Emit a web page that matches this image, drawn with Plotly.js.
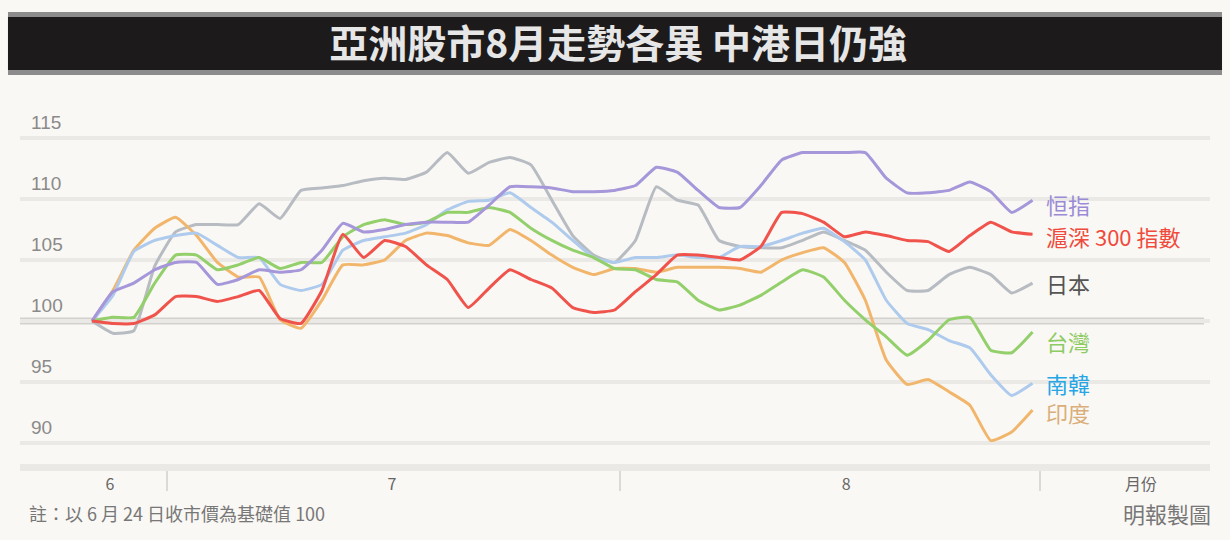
<!DOCTYPE html>
<html>
<head>
<meta charset="utf-8">
<script src="https://cdn.plot.ly/plotly-3.0.1.min.js"></script>
<style>
  html, body { margin: 0; padding: 0; background: #faf8f4; }
  #chart { width: 1230px; height: 540px; }
</style>
</head>
<body>
<div id="chart"></div>
<script>
// ---- data (index 100 = base day) ----
const tradingDay = [1,2,3,4,5,6,7,8,9,10,11,12,13,14,15,16,17,18,19,20,21,22,23,24,25,26,27,28,29,30,31,32,33,34,35,36,37,38,39,40,41,42,43,44,45,46];

const seriesNames = ['日本', '印度', '南韓', '台灣', '恒指', '滬深 300 指數'];

const japan = [100,99.0,99.2,104.5,107.3,107.9,107.9,107.9,109.6,108.4,110.7,110.9,111.1,111.5,111.7,111.6,112.2,113.8,112.1,113.0,113.4,112.8,109.9,107.0,105.4,104.8,106.6,111.0,109.9,109.5,106.6,106.1,106.0,106.0,106.6,107.3,106.6,105.8,104.0,102.5,102.5,103.8,104.4,103.8,102.3,103.1];

const india = [100,102.5,105.8,107.6,108.5,107.0,104.8,103.6,103.6,100.1,99.4,101.7,104.6,104.6,105.0,106.6,107.2,107.0,106.4,106.2,107.5,106.6,105.4,104.4,103.8,104.3,104.3,104.0,104.4,104.4,104.4,104.3,104.0,105.0,105.6,106.0,104.8,101.7,96.8,94.8,95.2,94.2,93.1,90.2,90.9,92.7];

const korea = [100,102.1,105.7,106.6,107.0,107.2,106.2,105.2,105.2,103.0,102.5,103.0,105.8,106.6,106.9,107.2,107.9,109.1,109.8,109.9,110.5,109.3,108.1,106.6,105.2,104.8,105.2,105.2,105.4,105.2,105.2,106.1,106.1,106.6,107.2,107.6,106.5,105.0,101.7,99.8,99.3,98.4,97.8,95.6,93.9,94.9];

const taiwan = [100,100.3,100.3,103.1,105.4,105.4,104.2,104.6,105.2,104.3,104.8,104.8,106.9,107.9,108.3,107.9,108.1,108.9,108.9,109.3,108.9,107.6,106.6,105.8,105.2,104.3,104.2,103.4,103.2,101.7,100.9,101.3,102.1,103.2,104.2,103.6,101.7,100.1,98.7,97.2,98.4,100.1,100.3,97.6,97.4,99.1];

const hangSeng = [100,102.4,103.1,104.2,104.8,104.8,103.0,103.4,104.2,104.0,104.2,105.8,108.0,107.3,107.5,107.9,108.1,108.1,108.1,109.5,111.0,111.0,110.9,110.6,110.6,110.7,111.1,112.6,112.2,110.7,109.3,109.3,111.1,113.2,113.8,113.8,113.8,113.8,111.7,110.5,110.5,110.7,111.4,110.6,108.9,109.9];

const csi300 = [100,99.8,99.8,100.5,102.0,102.0,101.6,102.0,102.5,100.2,99.8,102.5,107.1,105.2,106.6,106.1,104.6,103.4,101.1,102.7,104.2,103.4,102.7,101.1,100.7,100.9,102.4,103.8,105.4,105.4,105.2,105.0,106.1,108.9,108.8,108.1,106.9,107.3,107.0,106.6,106.5,105.7,107.0,108.1,107.3,107.1];

const yTickValues = [90, 95, 100, 105, 110, 115];
const yTickLabels = ['90', '95', '100', '105', '110', '115'];
const monthLabels = ['6', '7', '8', '月份'];

const titleText = '亞洲股市8月走勢各異 中港日仍強';
const noteText = '註：以 6 月 24 日收市價為基礎值 100';
const sourceText = '明報製圖';

// ---- styling ----
const CJK = '"Noto Sans CJK TC", "Noto Sans CJK SC", sans-serif';
const seriesData = [japan, india, korea, taiwan, hangSeng, csi300];
const lineColors = ['#b7bcc2', '#f1b66c', '#aecbee', '#93cf6b', '#a597da', '#f0534b'];
const labelColors = ['#555555', '#d9ae7a', '#27a6e6', '#8dcb63', '#9a8bd6', '#ef4a3c'];
const labelShift = [0, -2, 0, -9, -4, -2];

const traces = seriesData.map((ys, i) => ({
  x: tradingDay,
  y: ys,
  type: 'scatter',
  mode: 'lines',
  name: seriesNames[i],
  line: { color: lineColors[i], width: 3, shape: 'spline', smoothing: 0.4 },
  hoverinfo: 'skip'
}));

const seriesLabels = seriesData.map((ys, i) => ({
  x: tradingDay[tradingDay.length - 1],
  y: ys[ys.length - 1],
  xref: 'x', yref: 'y',
  text: seriesNames[i],
  showarrow: false,
  xanchor: 'left', yanchor: 'middle',
  xshift: 11, yshift: labelShift[i],
  font: { family: CJK, size: 22, color: labelColors[i] }
}));

const layout = {
  width: 1230, height: 540,
  margin: { l: 20, r: 20, t: 100, b: 76, pad: 0 },
  paper_bgcolor: '#faf8f4',
  plot_bgcolor: '#faf8f4',
  showlegend: false,
  title: {
    text: titleText,
    xref: 'container', yref: 'container',
    x: 0.5025, y: 0.918, xanchor: 'center', yanchor: 'middle',
    font: { family: CJK, size: 39, color: '#e6e6e6', weight: 'bold' }
  },
  xaxis: {
    range: [-2.445, 54.49],
    tickmode: 'array',
    tickvals: [1.86, 15.35, 37.08, 51.19],
    ticktext: monthLabels,
    ticks: '',
    showgrid: false,
    zeroline: false,
    showline: true,
    linecolor: '#ebe9e5',
    linewidth: 7,
    ticklabelstandoff: 0,
    tickfont: { family: CJK, size: 16, color: '#666666' },
    minor: {
      tickmode: 'array',
      tickvals: [4.59, 26.26, 46.36],
      ticks: 'outside',
      ticklen: 20,
      tickwidth: 2,
      tickcolor: '#dcdad6',
      showgrid: false
    },
    fixedrange: true
  },
  yaxis: {
    range: [88.28, 118.11],
    tickmode: 'array',
    tickvals: yTickValues,
    ticktext: yTickLabels,
    ticks: '',
    showgrid: true,
    gridcolor: '#ebe9e5',
    gridwidth: 4,
    zeroline: false,
    showline: false,
    ticklabelposition: 'inside',
    ticklabelstandoff: 8,
    ticklabelshift: -16,
    tickfont: { family: 'Liberation Sans, Arial, sans-serif', size: 19, color: '#8a8a8a' },
    fixedrange: true
  },
  shapes: [
    { type: 'rect', xref: 'paper', yref: 'paper', x0: -0.0101, x1: 1.0101, y0: 1.0687, y1: 1.2418,
      fillcolor: '#8c8c8c', line: { width: 0 }, layer: 'below' },
    { type: 'rect', xref: 'paper', yref: 'paper', x0: -0.0101, x1: 1.0101, y0: 1.0824, y1: 1.228,
      fillcolor: '#1c1a1b', line: { width: 0 }, layer: 'below' },
    { type: 'line', xref: 'paper', yref: 'y', x0: 0, x1: 0.995, y0: 100, y1: 100,
      line: { color: '#d3d1ce', width: 7 }, layer: 'below' }
  ],
  annotations: [
    ...seriesLabels,
    { xref: 'paper', yref: 'paper', x: 0.0059, y: -0.1346, xanchor: 'left', yanchor: 'middle',
      text: noteText, showarrow: false, font: { family: CJK, size: 18, color: '#777777' } },
    { xref: 'paper', yref: 'paper', x: 1.0025, y: -0.1346, xanchor: 'right', yanchor: 'middle',
      text: sourceText, showarrow: false, font: { family: CJK, size: 22, color: '#777777' } }
  ]
};

Plotly.newPlot('chart', traces, layout, { displayModeBar: false, staticPlot: true });
</script>
</body>
</html>
